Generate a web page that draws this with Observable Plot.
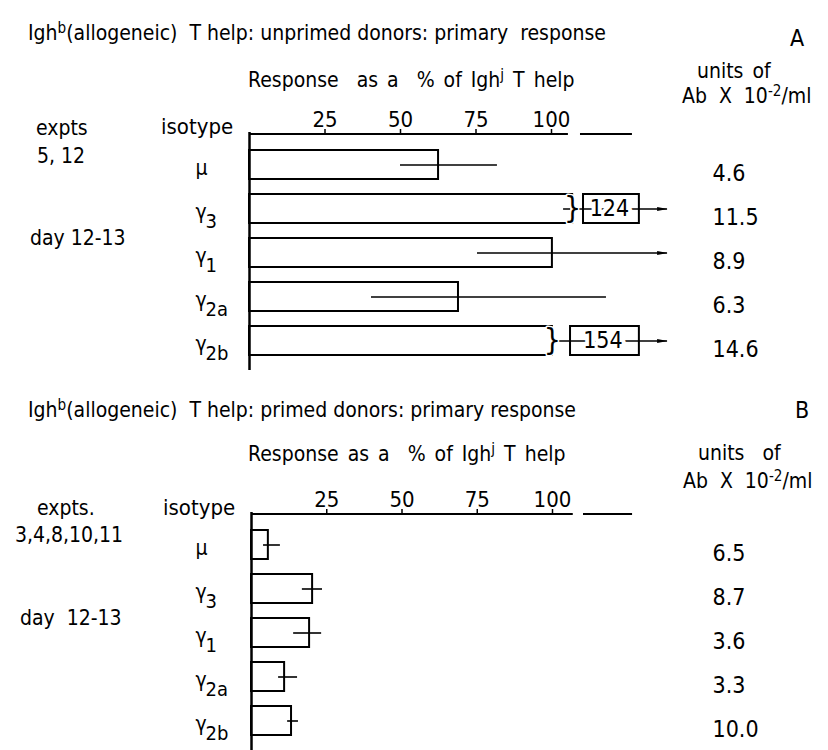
<!DOCTYPE html>
<html>
<head>
<meta charset="utf-8">
<script src="https://cdn.jsdelivr.net/npm/d3@7"></script>
<script src="https://cdn.jsdelivr.net/npm/@observablehq/plot@0.6"></script>
<style>
  html,body{margin:0;padding:0;background:#fff;}
  #page{position:relative;width:828px;height:750px;overflow:hidden;background:#fff;color:#000;
        font-family:"DejaVu Sans Condensed","DejaVu Sans",sans-serif;}
  .t{position:absolute;white-space:nowrap;line-height:1;transform:translateY(-50%);}
  .t sup{font-size:0.72em;line-height:0;vertical-align:0.42em;}
  .ws{word-spacing:3px;}
  .wu{word-spacing:6px;}
  .panel{position:absolute;left:0;}
  .panel svg{overflow:visible;display:block;}
</style>
</head>
<body>
<div id="page">
  <!-- Panel A texts -->
  <div class="t" style="left:28px;top:33px;font-size:21px">Igh<sup>b</sup>(allogeneic)&nbsp; T help: unprimed donors: primary&nbsp; response</div>
  <div class="t" style="left:790px;top:38px;font-size:23px">A</div>
  <div class="t ws" style="left:248px;top:80px;font-size:21px">Response&nbsp; as a&nbsp; % of Igh<sup>j</sup> T help</div>
  <div class="t ws" style="left:697px;top:71px;font-size:21px">units of</div>
  <div class="t wu" style="left:682px;top:96px;font-size:21px">Ab X 10<sup>-2</sup>/ml</div>
  <div class="t" style="left:36px;top:128px;font-size:21px">expts</div>
  <div class="t" style="left:37px;top:156px;font-size:21px">5, 12</div>
  <div class="t" style="left:161px;top:127px;font-size:22px">isotype</div>
  <div class="t" style="left:30px;top:238px;font-size:21px">day 12-13</div>
  <div class="panel" id="panelA" style="top:100px"></div>

  <!-- Panel B texts -->
  <div class="t" style="left:28px;top:410px;font-size:21px">Igh<sup>b</sup>(allogeneic)&nbsp; T help: primed donors: primary response</div>
  <div class="t" style="left:795px;top:410px;font-size:23px">B</div>
  <div class="t ws" style="left:248px;top:454px;font-size:21px">Response as a&nbsp; % of Igh<sup>j</sup> T help</div>
  <div class="t ws" style="left:698px;top:453px;font-size:21px">units&nbsp; of</div>
  <div class="t wu" style="left:683px;top:481px;font-size:21px">Ab X 10<sup>-2</sup>/ml</div>
  <div class="t" style="left:37px;top:508px;font-size:21px">expts.</div>
  <div class="t" style="left:15px;top:535px;font-size:21px">3,4,8,10,11</div>
  <div class="t" style="left:163px;top:508px;font-size:22px">isotype</div>
  <div class="t" style="left:20px;top:618px;font-size:21px">day&nbsp; 12-13</div>
  <div class="panel" id="panelB" style="top:480px"></div>
</div>
<script>
// ---- shared categories ----
const isotypes = ["μ", "γ3", "γ1", "γ2a", "γ2b"];
const isoBase = ["μ", "γ", "γ", "γ", "γ"];
const isoSub = ["", "3", "1", "2a", "2b"];
const xTicks = [25, 50, 75, 100];

// ---- Panel A: unprimed donors (% of Igh^j T help) ----
const aPercent = [62.6, 124, 100.3, 69.2, 154];
const aBarEnd = [62.6, 107, 100.3, 69.2, 100.3];      // drawn (broken) bar length
const aErrLow = [50, 104, 75.5, 40.4, 102.3];
const aErrHigh = [82.1, 138.4, 138.4, 118.2, 138.4];
const aOffScale = [false, true, true, false, true];  // error bar runs off the scale (arrow)
const aBoxFrom = [null, 110.6, null, null, 106.3];
const aBoxTo = [null, 129.1, null, null, 129.1];
const aUnits = ["4.6", "11.5", "8.9", "6.3", "14.6"];
const aAxisFrom = [0, 109.6];
const aAxisTo = [105.6, 126.8];

// ---- Panel B: primed donors ----
const bPercent = [5.6, 20.3, 19.3, 11.0, 13.3];
const bErrLow = [4.0, 16.9, 14.0, 9.0, 12.0];
const bErrHigh = [9.6, 23.6, 23.3, 15.3, 15.6];
const bUnits = ["6.5", "8.7", "3.6", "3.3", "10.0"];
const bAxisFrom = [0, 110.3];
const bAxisTo = [106.9, 126.6];

const FONT = '"DejaVu Sans Condensed","DejaVu Sans",sans-serif';

const arrowHead = {
  draw(ctx, size) {
    const s = Math.sqrt(size);
    ctx.moveTo(s, 0);
    ctx.lineTo(-s, -s * 0.38);
    ctx.lineTo(-s, s * 0.38);
    ctx.closePath();
  }
};

function makeRows(percent, barEnd, lo, hi, off, boxFrom, boxTo, units) {
  return isotypes.map((iso, i) => ({
    iso, base: isoBase[i], sub: isoSub[i],
    value: percent[i], barEnd: barEnd ? barEnd[i] : percent[i],
    lo: lo[i], hi: hi[i], off: off ? off[i] : false,
    boxFrom: boxFrom ? boxFrom[i] : null, boxTo: boxTo ? boxTo[i] : null,
    units: units[i]
  }));
}

function drawPanel(rows, segs, xRange, height, marginBottom) {
  const broken = rows.filter(d => d.barEnd < d.value);
  const boxed = rows.filter(d => d.boxFrom != null);
  const offs = rows.filter(d => d.off);
  return Plot.plot({
    width: 828, height, marginTop: 32, marginBottom, marginLeft: 249, marginRight: 0,
    style: {fontFamily: FONT, fontSize: "20px", color: "black", background: "transparent", overflow: "visible"},
    x: {domain: [0, 100], range: xRange, label: null},
    y: {domain: isotypes, range: [48, 258], paddingInner: 0.33, paddingOuter: 0, axis: null, label: null},
    marks: [
      Plot.axisX({anchor: "top", ticks: xTicks, tickSize: 4, tickPadding: 2, strokeWidth: 1.5,
                  fontSize: 22, label: null, tickFormat: d => String(d)}),
      Plot.barX(rows, {x1: 0, x2: "barEnd", y: "iso", fill: "white", stroke: "black", strokeWidth: 2}),
      Plot.ruleY(rows, {x1: "lo", x2: "hi", y: "iso", strokeWidth: 1.6}),
      Plot.tickX(broken, {x: "barEnd", y: "iso", stroke: "white", strokeWidth: 5, insetTop: 3, insetBottom: 3}),
      Plot.text(broken, {x: "barEnd", y: "iso", text: () => "}", fontSize: 30, fontWeight: 300,
                         stroke: "white", strokeWidth: 3, paintOrder: "stroke", fill: "black", dy: -1}),
      Plot.dot(offs, {x: "hi", y: "iso", symbol: arrowHead, r: 3, fill: "black", stroke: "none", dx: -5}),
      Plot.barX(boxed, {x1: "boxFrom", x2: "boxTo", y: "iso", fill: "none", stroke: "black", strokeWidth: 2}),
      Plot.text(boxed, {x: d => (d.boxFrom + d.boxTo) / 2, y: "iso", text: d => String(d.value),
                        fontSize: 23, stroke: "white", strokeWidth: 8, strokeLinejoin: "round",
                        paintOrder: "stroke", fill: "black", dx: -2}),
      Plot.ruleX([0], {strokeWidth: 2.5}),
      Plot.ruleY(segs, {x1: "from", x2: "to", y: () => isotypes[0], dy: -31, strokeWidth: 2}),
      Plot.text(rows, {y: "iso", text: "base", frameAnchor: "left", dx: -54, dy: 3,
                       textAnchor: "start", fontSize: 21}),
      Plot.text(rows, {y: "iso", text: "sub", frameAnchor: "left", dx: -44, dy: 13,
                       textAnchor: "start", fontSize: 20}),
      Plot.text(rows, {y: "iso", text: "units", frameAnchor: "left", dx: 463, dy: 9,
                       textAnchor: "start", fontSize: 23})
    ]
  });
}

const rowsA = makeRows(aPercent, aBarEnd, aErrLow, aErrHigh, aOffScale, aBoxFrom, aBoxTo, aUnits);
const rowsB = makeRows(bPercent, null, bErrLow, bErrHigh, null, null, null, bUnits);
const segsA = aAxisFrom.map((f, i) => ({from: f, to: aAxisTo[i]}));
const segsB = bAxisFrom.map((f, i) => ({from: f, to: bAxisTo[i]}));

document.getElementById("panelA").appendChild(drawPanel(rowsA, segsA, [249, 551], 275, 5));
document.getElementById("panelB").appendChild(drawPanel(rowsB, segsB, [251, 552], 270, 0));
</script>
</body>
</html>
